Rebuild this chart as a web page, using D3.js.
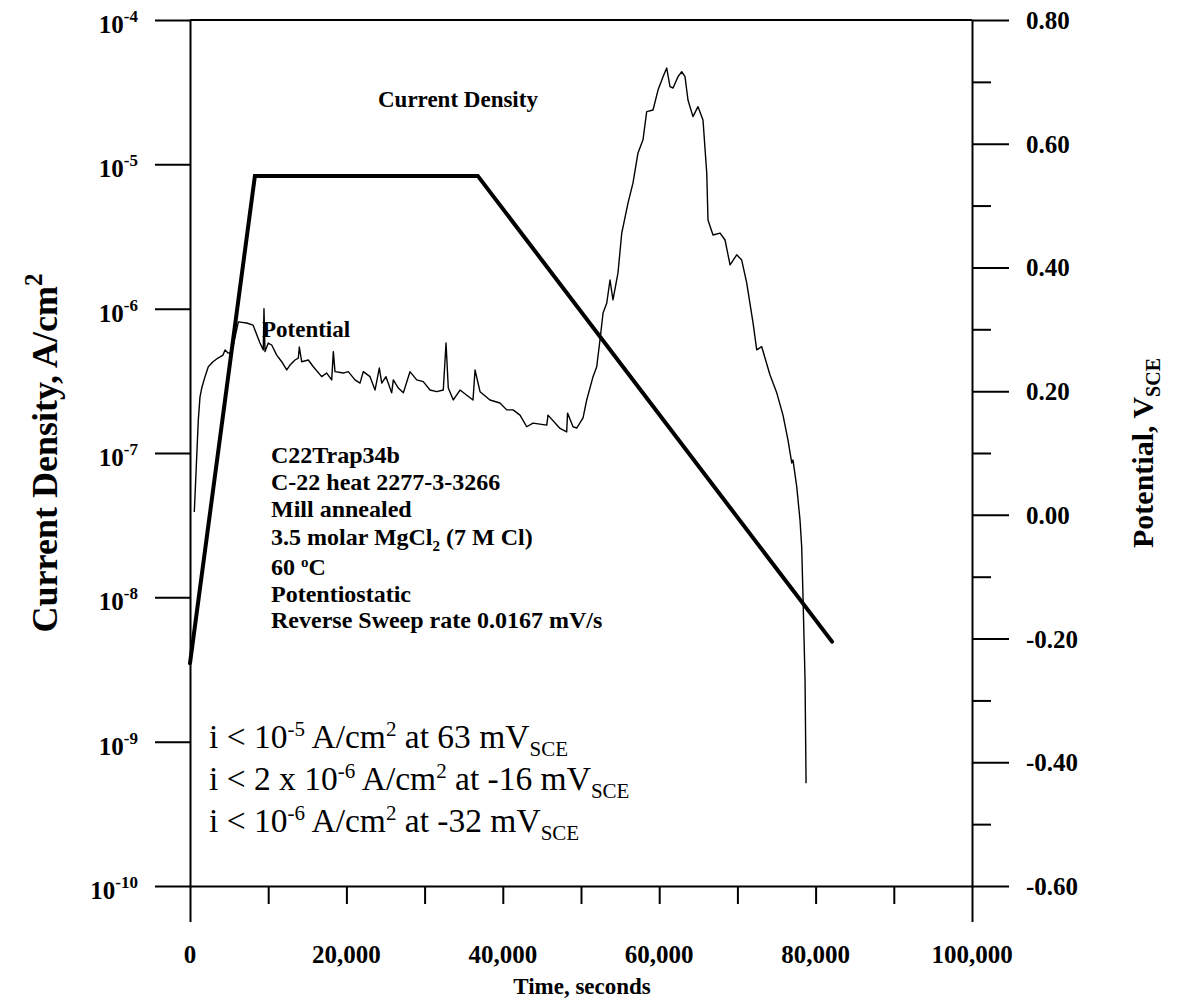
<!DOCTYPE html>
<html>
<head>
<meta charset="utf-8">
<script src="https://cdn.jsdelivr.net/npm/d3@7"></script>
<style>
  html, body { margin: 0; padding: 0; background: #fff; }
  svg { display: block; font-family: "Liberation Serif", "Times New Roman", serif; }
</style>
</head>
<body>
<svg id="chart" width="1189" height="1000"></svg>
<script>
// Current density record (time in s, current density in A/cm^2)
const currentTime = [
  550, 770, 1060, 1280, 1500, 1920, 2340, 2940, 3580, 4220, 4480, 4860, 5330, 6180, 7250, 8060, 8700,
  8950, 9370, 9460, 9590, 10010, 10450, 11090, 11730, 12370, 12790,
  13430, 13850, 13980, 14280, 15130, 15770, 16840, 17480, 18120, 18330,
  18540, 19600, 20240, 21100, 21740, 22160, 23020, 23660, 24210, 24520,
  25060, 25790, 26000, 26640, 27280, 28130, 28990, 29830, 30690, 31550,
  32390, 32740, 33030, 33670, 34530,
  36190, 36450, 37090, 38360, 39640, 40500, 41310, 42200, 43060, 43860,
  45620, 45780, 47320, 48170, 48280, 48980, 49450, 50260, 50730, 51540,
  52010, 52430, 52820, 53290, 53710, 54090, 54730, 55210, 56010, 56650,
  57290, 57930, 58400, 59210, 59850, 60490, 60960, 61380, 61770, 62410,
  62880, 63300, 63680, 64320, 64960, 65600, 66080, 66240, 66880, 67780,
  68420, 69060, 69910, 70550, 71190, 72000, 72470, 73110, 74170, 75030,
  75830, 76470, 76950, 77110, 77590, 78010, 78220, 78390, 78650, 78780
];
const currentDensity = [
  3.9e-8, 7.3e-8, 1.69e-7, 2.45e-7, 2.82e-7, 3.38e-7, 3.96e-7, 4.29e-7, 4.55e-7, 4.77e-7, 5.17e-7, 4.93e-7, 4.95e-7, 8.1e-7, 7.96e-7, 7.7e-7, 6.27e-7,
  5.78e-7, 5.18e-7, 1.0e-6, 5.04e-7, 5.78e-7, 5.6e-7, 4.77e-7, 4.29e-7, 3.76e-7, 4.07e-7,
  4.41e-7, 4.55e-7, 5.42e-7, 4.29e-7, 4.41e-7, 3.96e-7, 3.38e-7, 3.58e-7, 3.21e-7, 5.04e-7,
  3.66e-7, 3.58e-7, 3.66e-7, 3.21e-7, 3.05e-7, 3.66e-7, 3.38e-7, 2.73e-7, 3.88e-7, 3.05e-7,
  3.38e-7, 2.61e-7, 3.21e-7, 2.82e-7, 2.61e-7, 3.66e-7, 3.21e-7, 3.12e-7, 2.73e-7, 2.66e-7,
  2.73e-7, 5.78e-7, 2.82e-7, 2.33e-7, 2.73e-7,
  2.33e-7, 3.76e-7, 2.66e-7, 2.33e-7, 2.22e-7, 1.99e-7, 1.99e-7, 1.83e-7, 1.52e-7, 1.61e-7,
  1.56e-7, 1.83e-7, 1.48e-7, 1.40e-7, 1.89e-7, 1.52e-7, 1.49e-7, 1.75e-7, 2.33e-7, 3.38e-7,
  3.96e-7, 6.07e-7, 9.33e-7, 1.09e-6, 1.58e-6, 1.15e-6, 1.77e-6, 3.34e-6, 5.39e-6, 7.43e-6,
  1.2e-5, 1.48e-5, 2.32e-5, 2.38e-5, 3.27e-5, 4.05e-5, 4.65e-5, 3.45e-5, 3.38e-5, 4.05e-5,
  4.38e-5, 4.05e-5, 2.79e-5, 2.14e-5, 2.51e-5, 2.03e-5, 8.71e-6, 4.11e-6, 3.24e-6, 3.34e-6,
  2.99e-6, 2.01e-6, 2.36e-6, 2.17e-6, 1.51e-6, 7.96e-7, 5.18e-7, 5.45e-7, 3.47e-7, 2.61e-7,
  1.83e-7, 1.23e-7, 8.53e-8, 8.93e-8, 5.83e-8, 3.41e-8, 2.24e-8, 1.01e-8, 2.67e-9, 5.16e-10
];

// Applied potential program (time in s, potential in V vs SCE)
const potentialTime = [0, 8300, 36800, 82100];
const potentialVolts = [-0.24, 0.548, 0.548, -0.205];

// Axis ticks
const timeMajorTicks = [0, 20000, 40000, 60000, 80000, 100000];
const timeTickLabels = ["0", "20,000", "40,000", "60,000", "80,000", "100,000"];
const timeAllTicks = [10000, 20000, 30000, 40000, 50000, 60000, 70000, 80000, 90000];
const densityExponents = [-4, -5, -6, -7, -8, -9, -10];
const potentialMajorTicks = [0.8, 0.6, 0.4, 0.2, 0.0, -0.2, -0.4, -0.6];
const potentialMinorTicks = [0.7, 0.5, 0.3, 0.1, -0.1, -0.3, -0.5];

// Test description lines
const infoLines = [
  ["C22Trap34b"],
  ["C-22 heat 2277-3-3266"],
  ["Mill annealed"],
  ["3.5 molar MgCl", {sub: "2"}, " (7 M Cl)"],
  ["60 ", {sup: "o"}, "C"],
  ["Potentiostatic"],
  ["Reverse Sweep rate 0.0167 mV/s"]
];
const infoBaselines = [463, 490, 517, 545, 575, 602, 628];

// Breakdown criteria
const criteriaLines = [
  ["i < 10", {sup: "-5"}, " A/cm", {sup: "2"}, " at 63 mV", {sub: "SCE"}],
  ["i < 2 x 10", {sup: "-6"}, " A/cm", {sup: "2"}, " at -16 mV", {sub: "SCE"}],
  ["i < 10", {sup: "-6"}, " A/cm", {sup: "2"}, " at -32 mV", {sub: "SCE"}]
];
const criteriaBaselines = [748, 790, 832];

const plotLeft = 190, plotRight = 972, plotTop = 20, plotBottom = 886;

const svg = d3.select("#chart");

const x = d3.scaleLinear().domain([0, 100000]).range([plotLeft, plotRight]);
const yCur = d3.scaleLog().domain([1e-10, 1e-4]).range([plotBottom, plotTop]);
const yPot = d3.scaleLinear().domain([-0.6, 0.8]).range([plotBottom, plotTop]);

function styleAxis(g) {
  g.selectAll("path.domain").attr("stroke", "#000").attr("stroke-width", 2);
  g.selectAll(".tick line").attr("stroke", "#000").attr("stroke-width", 2);
  g.selectAll(".tick text").remove();
}

// Frame: top border
svg.append("line")
  .attr("x1", plotLeft).attr("x2", plotRight).attr("y1", plotTop).attr("y2", plotTop)
  .attr("stroke", "#000").attr("stroke-width", 2);

// Left log axis
svg.append("g")
  .attr("transform", `translate(${plotLeft},0)`)
  .call(d3.axisLeft(yCur).tickValues(densityExponents.map(e => Math.pow(10, e)))
    .tickSize(35).tickSizeOuter(0).tickFormat(""))
  .call(styleAxis);

// Right potential axis
svg.append("g")
  .attr("transform", `translate(${plotRight},0)`)
  .call(d3.axisRight(yPot).tickValues(potentialMajorTicks).tickSize(37).tickSizeOuter(0).tickFormat(""))
  .call(styleAxis);
svg.append("g")
  .attr("transform", `translate(${plotRight},0)`)
  .call(d3.axisRight(yPot).tickValues(potentialMinorTicks).tickSize(19).tickSizeOuter(0).tickFormat(""))
  .call(styleAxis)
  .call(g => g.select("path.domain").remove());

// Bottom time axis
svg.append("g")
  .attr("transform", `translate(0,${plotBottom})`)
  .call(d3.axisBottom(x).tickValues(timeAllTicks).tickSize(18).tickSizeOuter(0).tickFormat(""))
  .call(styleAxis);
svg.append("g")
  .attr("transform", `translate(0,${plotBottom})`)
  .call(d3.axisBottom(x).tickValues([0, 100000]).tickSize(36).tickSizeOuter(0).tickFormat(""))
  .call(styleAxis)
  .call(g => g.select("path.domain").remove());

// Tick labels
const labelFont = 25;
densityExponents.forEach(e => {
  const t = svg.append("text")
    .attr("x", 138).attr("y", yCur(Math.pow(10, e)) + 13)
    .attr("text-anchor", "end")
    .attr("font-size", labelFont).attr("font-weight", "bold");
  t.append("tspan").text("10");
  t.append("tspan").attr("font-size", 17).attr("dy", -11).text(String(e));
});

const voltFormat = v => v.toFixed(2).replace("\u2212", "-");
potentialMajorTicks.forEach(v => {
  svg.append("text")
    .attr("x", 1026).attr("y", yPot(v) + 9)
    .attr("font-size", labelFont).attr("font-weight", "bold")
    .text(voltFormat(v));
});

timeMajorTicks.forEach((v, i) => {
  svg.append("text")
    .attr("x", x(v)).attr("y", 963)
    .attr("text-anchor", "middle")
    .attr("font-size", labelFont).attr("font-weight", "bold")
    .text(timeTickLabels[i]);
});

// Axis titles
svg.append("text")
  .attr("x", 582).attr("y", 994)
  .attr("text-anchor", "middle")
  .attr("font-size", 23).attr("font-weight", "bold")
  .text("Time, seconds");

const leftTitle = svg.append("text")
  .attr("transform", "translate(57,453) rotate(-90)")
  .attr("text-anchor", "middle")
  .attr("font-size", 36).attr("font-weight", "bold");
leftTitle.append("tspan").text("Current Density, A/cm");
leftTitle.append("tspan").attr("font-size", 25).attr("dy", -15).text("2");

const rightTitle = svg.append("text")
  .attr("transform", "translate(1153,453) rotate(-90)")
  .attr("text-anchor", "middle")
  .attr("font-size", 30).attr("font-weight", "bold");
rightTitle.append("tspan").text("Potential, V");
rightTitle.append("tspan").attr("font-size", 20).attr("dy", 7).text("SCE");

// Series
const curLine = d3.line()
  .x((d, i) => x(currentTime[i]))
  .y(d => yCur(d));
svg.append("path")
  .attr("d", curLine(currentDensity))
  .attr("fill", "none").attr("stroke", "#000")
  .attr("stroke-width", 1.4).attr("stroke-linejoin", "round");

const potLine = d3.line()
  .x((d, i) => x(potentialTime[i]))
  .y(d => yPot(d));
svg.append("path")
  .attr("d", potLine(potentialVolts))
  .attr("fill", "none").attr("stroke", "#000")
  .attr("stroke-width", 4).attr("stroke-linejoin", "miter").attr("stroke-linecap", "round");

// Series labels
svg.append("text")
  .attr("x", 378).attr("y", 107)
  .attr("font-size", 23).attr("font-weight", "bold")
  .text("Current Density");
svg.append("text")
  .attr("x", 262).attr("y", 337)
  .attr("font-size", 23).attr("font-weight", "bold")
  .text("Potential");

// Rich text helper: strings, {sup}, {sub}
function richText(sel, parts, size, supSize, supShift, subShift) {
  let shift = 0;
  parts.forEach(p => {
    const ts = sel.append("tspan");
    let target = 0, content = p, fs = size;
    if (typeof p === "object") {
      if (p.sup !== undefined) { content = p.sup; target = -supShift; fs = supSize; }
      else { content = p.sub; target = subShift; fs = supSize; }
    }
    ts.attr("dy", target - shift).attr("font-size", fs).text(content);
    shift = target;
  });
}

infoLines.forEach((parts, i) => {
  const t = svg.append("text")
    .attr("x", 271).attr("y", infoBaselines[i])
    .attr("font-weight", "bold");
  richText(t, parts, 24, 15, 8, 6);
});

criteriaLines.forEach((parts, i) => {
  const t = svg.append("text")
    .attr("x", 209).attr("y", criteriaBaselines[i]);
  richText(t, parts, 33.5, 21, 12, 8);
});
</script>
</body>
</html>
